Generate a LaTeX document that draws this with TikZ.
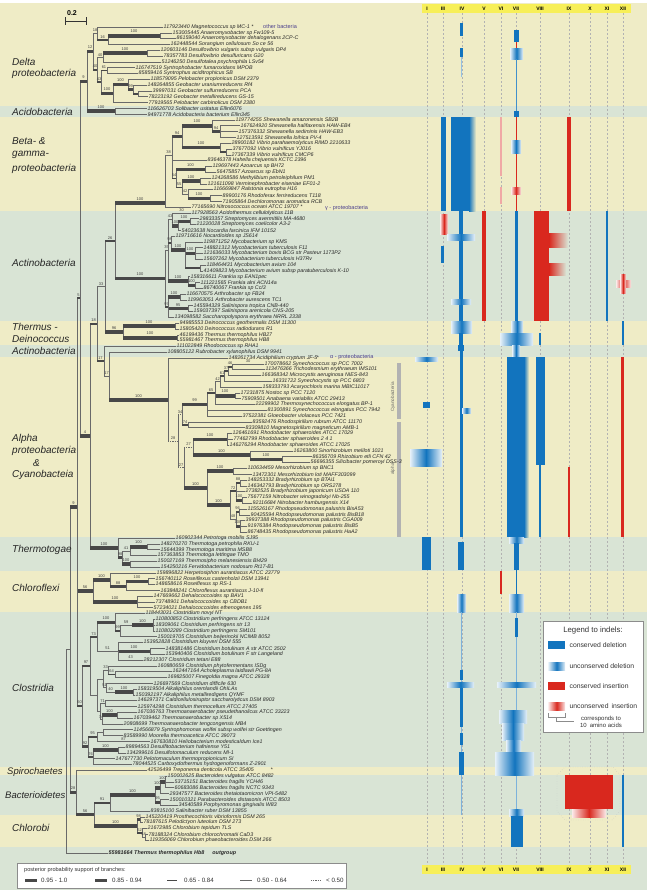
\documentclass[tikz,border=0pt]{standalone}
\usepackage{fontspec}
\setmainfont{Liberation Sans}
\usetikzlibrary{positioning}

\definecolor{bandy}{RGB}{239,236,198}
\definecolor{bandg}{RGB}{217,228,213}
\definecolor{indblue}{RGB}{18,116,190}
\definecolor{indred}{RGB}{217,40,30}
\definecolor{treeln}{RGB}{105,105,105}
\definecolor{barln}{RGB}{72,72,72}
\definecolor{colbar}{RGB}{247,239,88}
\definecolor{tagc}{RGB}{74,62,140}
\definecolor{brack}{RGB}{178,178,178}

\tikzset{
    leaf/.style={anchor=west, inner sep=0.5pt, text=black!85,
        font=\fontsize{5.3}{6}\selectfont\itshape},
    bs/.style={midway, above=0.9pt, inner sep=0pt, text=black!75,
        font=\fontsize{4}{4.5}\selectfont},
    vln/.style={draw=treeln, line width=0.5pt},
    b1/.style={draw=treeln, line width=0.5pt},
    b2/.style={draw=barln, line width=1.6pt},
    b3/.style={draw=barln, line width=2.6pt},
    b4/.style={draw=barln, line width=3.6pt},
    bd/.style={draw=treeln, line width=0.5pt, dash pattern=on 1.2pt off 1pt},
    clade/.style={anchor=west, inner sep=0pt, text=black!85,
        font=\fontsize{10}{12}\selectfont\itshape},
    tag/.style={anchor=west, inner sep=0pt, text=tagc,
        font=\fontsize{5.5}{6}\selectfont},
    coln/.style={draw=black!30, line width=0.35pt, dash pattern=on 2pt off 2pt},
    colt/.style={inner sep=0pt, font=\fontsize{5}{5}\selectfont\bfseries},
    cdel/.style={fill=indblue},
    cins/.style={fill=indred},
    udel/.style={left color=indblue!10, right color=indblue!10, middle color=indblue},
    uins/.style={left color=indred!10, right color=indred!10, middle color=indred},
    lgt/.style={inner sep=0pt, text=black!80, font=\fontsize{6.8}{8}\selectfont},
    lgs/.style={anchor=west, inner sep=0pt, text=black!80, font=\fontsize{6.2}{7}\selectfont},
    swatch/.style={anchor=north west, minimum width=17pt, minimum height=8pt, inner sep=0pt}
}

\newcommand{\lfn}[3]{\node[leaf] (l#1) at (#2,{21.193+5.807*#1}) {#3};}
\newcommand{\brn}[4][b1]{%
    \draw[vln] (#2) -- (#2|-#3);
    \draw[#1] (#2|-#3) -- (#3) node[bs] {#4};}

\begin{document}
\begin{tikzpicture}[x=1pt, y=-1pt]
\useasboundingbox (0,0) rectangle (649,892);
\fill[white] (0,0) rectangle (649,892);

% bands
\foreach \ya/\yb/\bc in {3/106/bandy, 106/117/bandg, 117/211/bandy, 211/321/bandg,
    321/345/bandy, 345/357/bandg, 357/537/bandy, 537/571/bandg, 571/612/bandy,
    612/767/bandg, 767/775/bandy, 775/815/bandg, 815/847/bandy, 847/890/bandg}
    \fill[\bc] (0,\ya) rectangle (647,\yb);

% indel columns
\fill[colbar] (422,4) rectangle (631,13);
\fill[colbar] (422,865) rectangle (631,874);
\foreach \cx/\cl in {427/I, 443/III, 462/IV, 484/V, 501/VI, 516/VII, 540/VIII,
    569/IX, 590/X, 607/XI, 623/XII} {
    \draw[coln] (\cx,13) -- (\cx,865);
    \node[colt] (top\cl) at (\cx,8.7) {\cl};
    \node[colt] (bot\cl) at (\cx,869.7) {\cl};
}

% indels: delta, acidobacteria
\fill[cdel] (460,23) rectangle (463,36);
\fill[cdel] (460,48) rectangle (463,57);
\fill[indblue!45] (460.5,57) rectangle (462,77);
\fill[cdel] (514,30) rectangle (519,42);
\fill[indred] (515.5,42) rectangle (517,48);
\path[udel] (510,48) rectangle (523,59);
\fill[indblue!80] (515.5,59) rectangle (517,111);
\fill[cdel] (514,111) rectangle (519,117);
% beta-gamma
\fill[cdel] (441,117) rectangle (446,211);
\fill[cdel] (451,117) rectangle (469,211);
\shade[left color=indblue, right color=bandy] (469,117) rectangle (476,211);
\fill[indred!40] (500,117) rectangle (501.5,176);
\fill[indred!40] (500,187) rectangle (501.5,204);
\fill[indred] (515.5,117) rectangle (517,211);
\path[udel] (511,140) rectangle (521,153);
\path[uins] (511,187) rectangle (521,194);
\fill[cins] (567,117) rectangle (571,211);
% actinobacteria
\path[uins] (440,214) rectangle (448,234);
\fill[cdel] (441,246) rectangle (444,263);
\fill[cdel] (459,211) rectangle (463,321);
\path[udel] (447,234) rectangle (475,240);
\path[udel] (451,299) rectangle (471,304);
\fill[cins] (482,211) rectangle (486,321);
\fill[cdel] (514.5,211) rectangle (518,321);
\fill[cins] (534,211) rectangle (549,321);
\shade[left color=indred, right color=bandg] (549,233) rectangle (568,247);
\shade[left color=indred, right color=bandg] (549,263) rectangle (566,275);
\fill[cdel] (606,211) rectangle (608,321);
\path[uins] (616,280) rectangle (631,287);
\path[uins] (620,274) rectangle (626,293);
% thermus-deinococcus
\path[udel] (451,321) rectangle (472,333);
\fill[cdel] (459,333) rectangle (463,345);
\path[udel] (511,321) rectangle (523,333);
\path[udel] (500,333) rectangle (533,345);
\fill[cdel] (539,333) rectangle (541,345);
\fill[cdel] (622,321) rectangle (624,345);
\fill[cdel] (458,345) rectangle (464,351);
\fill[cdel] (460,351) rectangle (463,357);
\path[udel] (512,345) rectangle (520,357);
% alpha, cyanobacteria
\path[udel] (415,357) rectangle (438,361);
\fill[cdel] (460,357) rectangle (463,537);
\path[udel] (462,408) rectangle (471,413);
\fill[cdel] (423,402) rectangle (430,408);
\fill[cdel] (507,357) rectangle (524,537);
\shade[left color=indblue, right color=bandy] (524,357) rectangle (529,537);
\path[udel] (509,537) rectangle (524,543);
\fill[cdel] (536,357) rectangle (545,465);
\fill[cdel] (539,465) rectangle (541,537);
\fill[cins] (568,467) rectangle (570,537);
\fill[cins] (621,357) rectangle (624,537);
\path[udel] (410,449) rectangle (442,466);
\fill[brack] (397,363) rectangle (401,419);
\fill[brack] (397,422) rectangle (401,537);
\node[rotate=90, inner sep=0pt, text=black!60, font=\fontsize{4.6}{5}\selectfont] (lcyano) at (393,397) {Cyanobacteria};
\node[rotate=90, inner sep=0pt, text=black!60, font=\fontsize{4.6}{5}\selectfont] (lalpha) at (393,469) {alpha};
% thermotogae, chloroflexi
\fill[cdel] (422,537) rectangle (431,570);
\fill[cdel] (458,542) rectangle (464,570);
\fill[cdel] (514,543) rectangle (519,570);
\fill[cins] (500,571) rectangle (501.5,594);
\path[udel] (457,594) rectangle (466,612);
\fill[cdel] (515.5,570) rectangle (517,594);
\path[udel] (509,594) rectangle (524,612);
% clostridia
\fill[indblue!55] (460.5,612) rectangle (462,815);
\fill[cdel] (459.5,670) rectangle (462.5,680);
\fill[cdel] (459.5,688) rectangle (462.5,727);
\fill[cdel] (459.5,733) rectangle (462.5,745);
\fill[cdel] (459,752) rectangle (463.5,775);
\path[udel] (447,682) rectangle (474,687);
\fill[indblue!55] (515.5,612) rectangle (517,810);
\fill[cdel] (514.5,618) rectangle (518,637);
\path[udel] (497,682) rectangle (536,687);
\path[udel] (499,710) rectangle (527,723);
\path[udel] (502,723) rectangle (524,740);
\path[udel] (506,740) rectangle (521,752);
\path[udel] (495,752) rectangle (534,775);
% bacteroidetes, chlorobi
\draw[black!25, dotted] (557,775) -- (565,767) -- (613,767) -- (620,775) -- (620,811)
    -- (612,820) -- (565,820) -- (557,811) -- cycle;
\fill[cins] (565,775) rectangle (613,809);
\path[uins] (572,809) rectangle (606,817);
\path[udel] (509,809) rectangle (524,816);
\fill[cdel] (511,816) rectangle (523,847);
\fill[cdel] (622,775) rectangle (624,847);

% leaves
\lfn{1}{163}{117923440 Magnetococcus sp MC-1 *}
\lfn{2}{172}{153005445 Anaeromyxobacter sp Fw109-5}
\lfn{3}{176}{86159040 Anaeromyxobacter dehalogenans 2CP-C}
\lfn{4}{170}{162448544 Sorangium cellulosum So ce 56}
\lfn{5}{160}{120603146 Desulfovibrio vulgaris subsp vulgaris DP4}
\lfn{6}{163}{78357783 Desulfovibrio desulfuricans G20}
\lfn{7}{161}{51246250 Desulfotalea psychrophila LSv54}
\lfn{8}{135}{116747519 Syntrophobacter fumaroxidans MPOB}
\lfn{9}{138}{85859416 Syntrophus aciditrophicus SB}
\lfn{10}{150}{118579095 Pelobacter propionicus DSM 2379}
\lfn{11}{147}{148264855 Geobacter uraniumreducens Rf4}
\lfn{12}{152}{39997031 Geobacter sulfurreducens PCA}
\lfn{13}{148}{78223192 Geobacter metallireducens GS-15}
\lfn{14}{148}{77919565 Pelobacter carbinolicus DSM 2380}
\lfn{15}{147}{116626703 Solibacter usitatus Ellin6076}
\lfn{16}{147}{94971778 Acidobacteria bacterium Ellin345}
\lfn{17}{235}{119774255 Shewanella amazonensis SB2B}
\lfn{18}{240}{167624920 Shewanella halifaxensis HAW-EB4}
\lfn{19}{238}{157376332 Shewanella sediminis HAW-EB3}
\lfn{20}{236}{127513591 Shewanella loihica PV-4}
\lfn{21}{231}{28900182 Vibrio parahaemolyticus RIMD 2210633}
\lfn{22}{232}{37677092 Vibrio vulnificus YJ016}
\lfn{23}{231}{27367339 Vibrio vulnificus CMCP6}
\lfn{24}{207}{83646378 Hahella chejuensis KCTC 2396}
\lfn{25}{212}{119697443 Azoarcus sp BH72}
\lfn{26}{216}{56475857 Azoarcus sp EbN1}
\lfn{27}{211}{124268586 Methylibium petroleiphilum PM1}
\lfn{28}{207}{121611098 Verminephrobacter eiseniae EF01-2}
\lfn{29}{213}{116669847 Ralstonia eutropha H16}
\lfn{30}{222}{89900176 Rhodoferax ferrireducens T118}
\lfn{31}{222}{71905864 Dechloromonas aromatica RCB}
\lfn{32}{191}{77165690 Nitrosococcus oceani ATCC 19707 *}
\lfn{33}{191}{117928563 Acidothermus cellulolyticus 11B}
\lfn{34}{199}{29833357 Streptomyces avermitilis MA-4680}
\lfn{35}{196}{21220028 Streptomyces coelicolor A3-2}
\lfn{36}{181}{54023638 Nocardia farcinica IFM 10152}
\lfn{37}{175}{119716616 Nocardioides sp JS614}
\lfn{38}{203}{119871252 Mycobacterium sp KMS}
\lfn{39}{203}{148821312 Mycobacterium tuberculosis F11}
\lfn{40}{203}{121636033 Mycobacterium bovis BCG str Pasteur 1173P2}
\lfn{41}{203}{15607262 Mycobacterium tuberculosis H37Rv}
\lfn{42}{206}{118464431 Mycobacterium avium 104}
\lfn{43}{203}{41409823 Mycobacterium avium subsp paratuberculosis K-10}
\lfn{44}{190}{158316611 Frankia sp EAN1pec}
\lfn{45}{200}{111221565 Frankia alni ACN14a}
\lfn{46}{203}{86740067 Frankia sp CcI3}
\lfn{47}{186}{116670575 Arthrobacter sp FB24}
\lfn{48}{187}{119963051 Arthrobacter aurescens TC1}
\lfn{49}{193}{145594329 Salinispora tropica CNB-440}
\lfn{50}{193}{159037397 Salinispora arenicola CNS-205}
\lfn{51}{174}{134098582 Saccharopolyspora erythraea NRRL 2338}
\lfn{52}{179}{94985553 Deinococcus geothermalis DSM 11300}
\lfn{53}{179}{15805420 Deinococcus radiodurans R1}
\lfn{54}{179}{46199436 Thermus thermophilus HB27}
\lfn{55}{179}{55981467 Thermus thermophilus HB8}
\lfn{56}{176}{111022849 Rhodococcus sp RHA1}
\lfn{57}{167}{108805122 Rubrobacter xylanophilus DSM 9941}
\lfn{58}{228}{148261734 Acidiphilium cryptum JF-5}
\lfn{59}{264}{170078662 Synechococcus sp PCC 7002}
\lfn{60}{265}{113476366 Trichodesmium erythraeum IMS101}
\lfn{61}{261}{166368342 Microcystis aeruginosa NIES-843}
\lfn{62}{272}{16331722 Synechocystis sp PCC 6803}
\lfn{63}{262}{158333793 Acaryochloris marina MBIC11017}
\lfn{64}{240}{17231875 Nostoc sp PCC 7120}
\lfn{65}{241}{75909501 Anabaena variabilis ATCC 29413}
\lfn{66}{255}{22299902 Thermosynechococcus elongatus BP-1}
\lfn{67}{267}{81300891 Synechococcus elongatus PCC 7942}
\lfn{68}{242}{37522381 Gloeobacter violaceus PCC 7421}
\lfn{69}{252}{83592476 Rhodospirillum rubrum ATCC 11170}
\lfn{70}{245}{83309810 Magnetospirillum magneticum AMB-1}
\lfn{71}{232}{126461691 Rhodobacter sphaeroides ATCC 17029}
\lfn{72}{233}{77462799 Rhodobacter sphaeroides 2 4 1}
\lfn{73}{229}{146276294 Rhodobacter sphaeroides ATCC 17025}
\lfn{74}{293}{16263800 Sinorhizobium meliloti 1021}
\lfn{75}{312}{86356709 Rhizobium etli CFN 42}
\lfn{76}{310}{56696355 Silicibacter pomeroyi DSS-3}
\lfn{77}{247}{110634459 Mesorhizobium sp BNC1}
\lfn{78}{252}{13472301 Mesorhizobium loti MAFF303099}
\lfn{79}{247}{148253332 Bradyrhizobium sp BTAi1}
\lfn{80}{247}{146342793 Bradyrhizobium sp ORS278}
\lfn{81}{245}{27382525 Bradyrhizobium japonicum USDA 110}
\lfn{82}{247}{75677159 Nitrobacter winogradskyi Nb-255}
\lfn{83}{252}{92116684 Nitrobacter hamburgensis X14}
\lfn{84}{247}{115526167 Rhodopseudomonas palustris BisA53}
\lfn{85}{250}{90425594 Rhodopseudomonas palustris BisB18}
\lfn{86}{245}{39937388 Rhodopseudomonas palustris CGA009}
\lfn{87}{247}{91976384 Rhodopseudomonas palustris BisB5}
\lfn{88}{247}{86748435 Rhodopseudomonas palustris HaA2}
\lfn{89}{175}{160902344 Petrotoga mobilis SJ95}
\lfn{90}{160}{148270270 Thermotoga petrophila RKU-1}
\lfn{91}{160}{15644399 Thermotoga maritima MSB8}
\lfn{92}{157}{157363853 Thermotoga lettingae TMO}
\lfn{93}{157}{150027169 Thermosipho melanesiensis BI429}
\lfn{94}{160}{154250216 Fervidobacterium nodosum Rt17-B1}
\lfn{95}{156}{159896822 Herpetosiphon aurantiacus ATCC 23779}
\lfn{96}{155}{156740112 Roseiflexus castenholzii DSM 13941}
\lfn{97}{155}{148658616 Roseiflexus sp RS-1}
\lfn{98}{160}{163848241 Chloroflexus aurantiacus J-10-fl}
\lfn{99}{153}{147669662 Dehalococcoides sp BAV1}
\lfn{100}{155}{73748901 Dehalococcoides sp CBDB1}
\lfn{101}{153}{57234021 Dehalococcoides ethenogenes 195}
\lfn{102}{145}{118443031 Clostridium novyi NT}
\lfn{103}{155}{110800853 Clostridium perfringens ATCC 13124}
\lfn{104}{155}{18309061 Clostridium perfringens str 13}
\lfn{105}{155}{110802289 Clostridium perfringens SM101}
\lfn{106}{157}{150019705 Clostridium beijerinckii NCIMB 8052}
\lfn{107}{143}{153952828 Clostridium kluyveri DSM 555}
\lfn{108}{165}{148381486 Clostridium botulinum A str ATCC 3502}
\lfn{109}{165}{153940406 Clostridium botulinum F str Langeland}
\lfn{110}{143}{28212307 Clostridium tetani E88}
\lfn{111}{157}{160880659 Clostridium phytofermentans ISDg}
\lfn{112}{172}{162447164 Acholeplasma laidlawii PG-8A}
\lfn{113}{167}{169825007 Finegoldia magna ATCC 29328}
\lfn{114}{153}{126697569 Clostridium difficile 630}
\lfn{115}{137}{158319504 Alkaliphilus oremlandii OhILAs}
\lfn{116}{135}{150392197 Alkaliphilus metalliredigens QYMF}
\lfn{117}{137}{146297371 Caldicellulosiruptor saccharolyticus DSM 8903}
\lfn{118}{137}{125974298 Clostridium thermocellum ATCC 27405}
\lfn{119}{137}{167036763 Thermoanaerobacter pseudethanolicus ATCC 33223}
\lfn{120}{133}{167039462 Thermoanaerobacter sp X514}
\lfn{121}{123}{20808699 Thermoanaerobacter tengcongensis MB4}
\lfn{122}{133}{114566879 Syntrophomonas wolfei subsp wolfei str Goettingen}
\lfn{123}{123}{83589990 Moorella thermoacetica ATCC 39073}
\lfn{124}{150}{167630810 Heliobacterium modesticaldum Ice1}
\lfn{125}{125}{89894563 Desulfitobacterium hafniense Y51}
\lfn{126}{126}{134299616 Desulfotomaculum reducens MI-1}
\lfn{127}{115}{147677730 Pelotomaculum thermopropionicum SI}
\lfn{128}{132}{78044525 Carboxydothermus hydrogenoformans Z-2901}
\lfn{129}{147}{42526499 Treponema denticola ATCC 35405}
\lfn{130}{167}{150002625 Bacteroides vulgatus ATCC 8482}
\lfn{131}{174}{53715151 Bacteroides fragilis YCH46}
\lfn{132}{174}{60683086 Bacteroides fragilis NCTC 9343}
\lfn{133}{169}{29347577 Bacteroides thetaiotaomicron VPI-5482}
\lfn{134}{169}{150010321 Parabacteroides distasonis ATCC 8503}
\lfn{135}{178}{34540589 Porphyromonas gingivalis W83}
\lfn{136}{150}{83815100 Salinibacter ruber DSM 13855}
\lfn{137}{145}{145220419 Prosthecochloris vibrioformis DSM 265}
\lfn{138}{143}{78187615 Pelodictyon luteolum DSM 273}
\lfn{139}{147}{21672985 Chlorobium tepidum TLS}
\lfn{140}{148}{78188324 Chlorobium chlorochromatii CaD3}
\lfn{141}{149}{119356069 Chlorobium phaeobacteroides DSM 266}
\node[leaf, font=\fontsize{5.4}{6}\selectfont\bfseries\itshape] (og) at (108,853)
    {55981664 Thermus thermophilus Hb8\hspace{8pt}outgroup};
\node[leaf] (ast58) at (316,358) {*};
\node[leaf] (ast129) at (270,770) {*};
\node[tag] (tother) at (263,26.5) {other bacteria};
\node[tag] (tgamma) at (325,208) {γ - proteobacteria};
\node[tag] (talpha) at (330,357.5) {α - proteobacteria};

% internal nodes
\coordinate (root) at (66,751);
\coordinate (ing) at (70,649.5);
\coordinate (q) at (77,507);
\coordinate (s) at (76,792.4);
\coordinate (t) at (80,298);
\coordinate (cf) at (93,591);
\coordinate (w) at (82,706);
\coordinate (d) at (87,81.4);
\coordinate (f) at (90,436);
\coordinate (dl) at (93,51.5);
\coordinate (ac) at (115,111.2);
\coordinate (dm) at (97,33);
\coordinate (mx) at (108,40);
\coordinate (anae) at (160,35.7);
\coordinate (dr) at (97,69.8);
\coordinate (dv) at (103,57.5);
\coordinate (dva) at (147,53.1);
\coordinate (sy) at (101,81.8);
\coordinate (syn) at (107,70.6);
\coordinate (geo) at (113,93.5);
\coordinate (gp) at (128,84.4);
\coordinate (gg) at (133,89.5);
\coordinate (gs) at (138,93.8);
\coordinate (k) at (115,241);
\coordinate (bg) at (165,203);
\coordinate (g1) at (172,155);
\coordinate (g2) at (182,136.6);
\coordinate (g3) at (176,178.6);
\coordinate (sh) at (212,125.7);
\coordinate (sh2) at (220,131.5);
\coordinate (vb) at (220,147.5);
\coordinate (vb2) at (226,151.9);
\coordinate (az) at (205,169.3);
\coordinate (g4) at (182,187.5);
\coordinate (mt) at (200,180.9);
\coordinate (g5) at (188,194);
\coordinate (rd) at (210,198.3);
\coordinate (j) at (105,286.5);
\coordinate (act) at (165,278.5);
\coordinate (aa) at (168,250);
\coordinate (ab) at (168,307);
\coordinate (ac1) at (172,219);
\coordinate (sm) at (178,226);
\coordinate (st) at (190,221.5);
\coordinate (ny) at (171,243);
\coordinate (my) at (185,250);
\coordinate (mt2) at (195,253.5);
\coordinate (ma) at (200,268);
\coordinate (fr) at (188,281);
\coordinate (fr2) at (195,285.4);
\coordinate (ar) at (180,297);
\coordinate (sa2) at (188,308.6);
\coordinate (td) at (123,332);
\coordinate (dn) at (175,326.1);
\coordinate (th) at (177,337.7);
\coordinate (h) at (97,323.8);
\coordinate (lq) at (104,361);
\coordinate (lm) at (109,376);
\coordinate (alp) at (168,400);
\coordinate (n2) at (178,441);
\coordinate (n3) at (182,414.6);
\coordinate (n4) at (184,467.5);
\coordinate (cy) at (207,404.5);
\coordinate (rs) at (188,424.8);
\coordinate (c1) at (215,393);
\coordinate (c2) at (220,381.5);
\coordinate (ns) at (235,395.7);
\coordinate (c3) at (224,376);
\coordinate (c4) at (228,371);
\coordinate (c5) at (232,366.7);
\coordinate (r1) at (193,447);
\coordinate (rb) at (227,439.3);
\coordinate (rz) at (250,455);
\coordinate (rz2) at (282,459.6);
\coordinate (r2) at (207,488);
\coordinate (ms) at (233,471.2);
\coordinate (bra) at (230,505);
\coordinate (bgr) at (236,491);
\coordinate (bb) at (240,482.8);
\coordinate (nb) at (242,500.3);
\coordinate (rp) at (236,519);
\coordinate (rp1) at (239,511.9);
\coordinate (rp2) at (240,526.4);
\coordinate (tt) at (118,547.8);
\coordinate (t2) at (122,557.6);
\coordinate (t3) at (130,551);
\coordinate (tm) at (147,546.7);
\coordinate (t4) at (130,564.1);
\coordinate (cf1) at (110,580);
\coordinate (cf2) at (126,586.5);
\coordinate (rf) at (148,581.6);
\coordinate (dh) at (137,601.9);
\coordinate (cl1) at (90,666);
\coordinate (cl2) at (88,746.5);
\coordinate (cl3) at (97,637);
\coordinate (cl5) at (97,695);
\coordinate (ca) at (115,622.3);
\coordinate (ca2) at (120,630.9);
\coordinate (pf) at (132,625.1);
\coordinate (pf2) at (153,625.1);
\coordinate (cb) at (118,651);
\coordinate (cbo) at (150,651.3);
\coordinate (cl6) at (103,679);
\coordinate (c6a) at (108,670);
\coordinate (ac2) at (115,674.5);
\coordinate (c6b) at (106,687.5);
\coordinate (al) at (115,691.9);
\coordinate (al2) at (133,691.9);
\coordinate (cl7) at (100,711.5);
\coordinate (cc) at (105,703.5);
\coordinate (ta) at (102,719.5);
\coordinate (tp) at (117,715.1);
\coordinate (cm) at (97,737);
\coordinate (sw) at (103,732.6);
\coordinate (cd) at (93,757);
\coordinate (dsr) at (118,750);
\coordinate (bc) at (94,814.5);
\coordinate (bt) at (110,803);
\coordinate (bx) at (155,795);
\coordinate (bv) at (160,787.7);
\coordinate (bv2) at (165,781.9);
\coordinate (pb) at (160,802.2);
\coordinate (cb2) at (137,826);
\coordinate (ch1) at (140,819.7);
\coordinate (ch2) at (142,832.8);
\coordinate (ch3) at (145,837.1);

% backbone
\brn{root}{ing}{}
\brn{root}{og}{}
\brn[b4]{ing}{q}{9}
\brn[b4]{ing}{s}{28}
\brn[b2]{q}{t}{5}
\brn[b4]{q}{cf}{56}
\brn[b3]{q}{w}{60}
\brn[b4]{t}{d}{9}
\brn[b4]{t}{f}{4}

% delta, acidobacteria
\brn[b4]{d}{dl}{12}
\brn[b4]{d}{ac}{100}
\brn{ac}{l15}{} \brn{ac}{l16}{}
\brn{dl}{dm}{18}
\brn[b2]{dm}{mx}{16}
\brn{dm}{l1}{}
\brn[b4]{mx}{anae}{100}
\brn{mx}{l4}{}
\brn{anae}{l2}{} \brn{anae}{l3}{}
\brn[b3]{dl}{dr}{40}
\brn{dr}{dv}{40}
\brn[b4]{dv}{dva}{100}
\brn{dva}{l5}{} \brn{dva}{l6}{} \brn{dv}{l7}{}
\brn[b2]{dr}{sy}{43}
\brn[b2]{sy}{syn}{61}
\brn{syn}{l8}{} \brn{syn}{l9}{}
\brn[b4]{sy}{geo}{100}
\brn[b4]{geo}{gp}{100}
\brn{geo}{l14}{}
\brn{gp}{l10}{}
\brn[b3]{gp}{gg}{99}
\brn{gg}{l11}{}
\brn[b2]{gg}{gs}{}
\brn{gs}{l12}{} \brn{gs}{l13}{}

% beta- and gamma-proteobacteria
\brn[b2]{j}{k}{26}
\brn[b4]{k}{bg}{100}
\brn{bg}{g1}{38}
\brn{bg}{l32}{}
\brn[b3]{g1}{g2}{94}
\brn{g1}{l24}{}
\brn[b2]{g1}{g3}{54}
\brn[b4]{g2}{sh}{100}
\brn[b4]{g2}{vb}{100}
\brn{sh}{l17}{}
\brn[b3]{sh}{sh2}{94}
\brn{sh2}{l18}{} \brn{sh2}{l19}{} \brn{sh2}{l20}{}
\brn{vb}{l21}{}
\brn[b2]{vb}{vb2}{}
\brn{vb2}{l22}{} \brn{vb2}{l23}{}
\brn[b4]{g3}{az}{100}
\brn{az}{l25}{} \brn{az}{l26}{}
\brn[b2]{g3}{g4}{55}
\brn[b4]{g4}{mt}{100}
\brn{mt}{l27}{} \brn{mt}{l28}{}
\brn{g4}{g5}{42}
\brn{g5}{l29}{}
\brn[b4]{g5}{rd}{100}
\brn{rd}{l30}{} \brn{rd}{l31}{}

% actinobacteria, thermus-deinococcus
\brn{h}{j}{33}
\brn[b4]{k}{act}{100}
\brn{act}{aa}{35}
\brn[b2]{act}{ab}{97}
\brn{aa}{ac1}{43}
\brn{ac1}{l33}{30}
\brn[b4]{ac1}{sm}{100}
\brn[b4]{sm}{st}{100}
\brn{st}{l34}{} \brn{st}{l35}{}
\brn{sm}{l36}{}
\brn[b3]{aa}{ny}{98}
\brn{ny}{l37}{}
\brn[b4]{ny}{my}{100}
\brn{my}{l38}{}
\brn[b4]{my}{mt2}{100}
\brn{mt2}{l39}{} \brn{mt2}{l40}{} \brn{mt2}{l41}{}
\brn[b2]{my}{ma}{}
\brn{ma}{l42}{} \brn{ma}{l43}{}
\brn[b4]{aa}{fr}{100}
\brn{fr}{l44}{}
\brn[b4]{fr}{fr2}{100}
\brn{fr2}{l45}{} \brn{fr2}{l46}{}
\brn[b4]{ab}{ar}{100}
\brn{ar}{l47}{} \brn{ar}{l48}{}
\brn[b3]{ab}{sa2}{95}
\brn{sa2}{l49}{} \brn{sa2}{l50}{}
\brn{ab}{l51}{}
\brn[b4]{j}{td}{96}
\brn[b4]{td}{dn}{100}
\brn[b4]{td}{th}{100}
\brn{dn}{l52}{} \brn{dn}{l53}{} \brn{th}{l54}{} \brn{th}{l55}{}

% alpha-proteobacteria, cyanobacteria
\brn[b3]{f}{h}{18}
\brn[b2]{h}{lq}{17}
\brn{lq}{l56}{}
\brn{lq}{lm}{17}
\brn{lm}{l57}{}
\brn[b4]{lm}{alp}{100}
\brn{alp}{l58}{}
\brn[bd]{alp}{n2}{28}
\brn[bd]{n2}{n3}{34}
\brn[bd]{n2}{n4}{27}
\brn[b4]{n3}{cy}{99}
\brn[b2]{n3}{rs}{74}
\brn{rs}{l69}{} \brn{rs}{l70}{}
\brn[b2]{cy}{c1}{65}
\brn{cy}{l67}{} \brn{cy}{l68}{}
\brn{c1}{c2}{42}
\brn[b4]{c1}{ns}{100}
\brn{ns}{l64}{} \brn{ns}{l65}{}
\brn{c1}{l66}{}
\brn[b2]{c2}{c3}{61}
\brn{c2}{l63}{}
\brn[b2]{c3}{c4}{37}
\brn{c3}{l62}{}
\brn[b2]{c4}{c5}{46}
\brn{c4}{l61}{}
\brn{c5}{l59}{30} \brn{c5}{l60}{}
\brn[bd]{n4}{r1}{27}
\brn[b4]{r1}{rb}{100}
\brn{rb}{l71}{} \brn{rb}{l72}{} \brn{rb}{l73}{}
\brn[b4]{r1}{rz}{100}
\brn{rz}{l74}{}
\brn[b4]{rz}{rz2}{100}
\brn{rz2}{l75}{} \brn{rz2}{l76}{}
\brn[b4]{n4}{r2}{100}
\brn[b4]{r2}{ms}{100}
\brn{ms}{l77}{} \brn{ms}{l78}{}
\brn[b4]{r2}{bra}{100}
\brn[b2]{bra}{bgr}{72}
\brn[b3]{bgr}{bb}{88}
\brn{bb}{l79}{} \brn{bb}{l80}{}
\brn{bgr}{l81}{}
\brn[b4]{bgr}{nb}{100}
\brn{nb}{l82}{} \brn{nb}{l83}{}
\brn{bra}{rp}{48}
\brn[b3]{rp}{rp1}{96}
\brn{rp1}{l84}{} \brn{rp1}{l85}{}
\brn[b4]{rp}{rp2}{100}
\brn{rp2}{l86}{} \brn{rp2}{l87}{} \brn{rp2}{l88}{}

% thermotogae, chloroflexi
\brn[b4]{f}{tt}{100}
\brn{tt}{l89}{}
\brn[b3]{tt}{t2}{98}
\brn{t2}{t3}{41}
\brn[b4]{t3}{tm}{100}
\brn{tm}{l90}{} \brn{tm}{l91}{}
\brn{t3}{l92}{}
\brn[b4]{t2}{t4}{100}
\brn{t4}{l93}{} \brn{t4}{l94}{}
\brn[b4]{cf}{cf1}{100}
\brn{cf1}{l95}{}
\brn[b3]{cf1}{cf2}{88}
\brn[b4]{cf2}{rf}{100}
\brn{rf}{l96}{} \brn{rf}{l97}{}
\brn{cf2}{l98}{}
\brn[b4]{cf}{dh}{100}
\brn{dh}{l99}{} \brn{dh}{l100}{} \brn{dh}{l101}{}

% clostridia
\brn[b3]{w}{cl1}{97}
\brn[b3]{w}{cl2}{92}
\brn[b2]{cl1}{cl3}{73}
\brn{cl1}{cl5}{}
\brn[b4]{cl3}{ca}{100}
\brn{ca}{l102}{}
\brn[b3]{ca}{ca2}{99}
\brn{ca2}{pf}{59}
\brn[b4]{pf}{pf2}{100}
\brn{pf2}{l103}{} \brn{pf2}{l104}{} \brn{pf2}{l105}{}
\brn{ca2}{l106}{}
\brn{cl3}{cb}{51}
\brn{cb}{l107}{}
\brn[b4]{cb}{cbo}{100}
\brn{cbo}{l108}{} \brn{cbo}{l109}{}
\brn{cb}{l110}{43}
\brn{cl5}{cl6}{}
\brn{cl6}{c6a}{33}
\brn{c6a}{l111}{}
\brn[b2]{c6a}{ac2}{64}
\brn{ac2}{l112}{} \brn{ac2}{l113}{}
\brn{cl6}{c6b}{51}
\brn{c6b}{l114}{}
\brn{c6b}{al}{40}
\brn[b4]{al}{al2}{100}
\brn{al2}{l115}{} \brn{al2}{l116}{}
\brn{cl5}{cl7}{}
\brn{cl7}{cc}{71}
\brn{cc}{l117}{} \brn{cc}{l118}{}
\brn{cl7}{ta}{74}
\brn[b4]{ta}{tp}{100}
\brn{tp}{l119}{} \brn{tp}{l120}{}
\brn{ta}{l121}{}
\brn[b3]{cl2}{cm}{95}
\brn{cm}{sw}{}
\brn{sw}{l122}{} \brn{sw}{l123}{}
\brn{cm}{l124}{87}
\brn[b2]{cl2}{cd}{76}
\brn[b4]{cd}{dsr}{100}
\brn{dsr}{l125}{} \brn{dsr}{l126}{}
\brn{cd}{l127}{} \brn{cd}{l128}{}

% spirochaetes, bacteroidetes, chlorobi
\brn{s}{l129}{}
\brn[b3]{s}{bc}{56}
\brn[b3]{bc}{bt}{91}
\brn[b4]{bt}{bx}{100}
\brn{bt}{l136}{}
\brn[b4]{bx}{bv}{100}
\brn[b4]{bv}{bv2}{100}
\brn{bv2}{l130}{} \brn{bv2}{l131}{} \brn{bv2}{l132}{}
\brn{bv}{l133}{}
\brn[b3]{bx}{pb}{95}
\brn{pb}{l134}{} \brn{pb}{l135}{}
\brn[b4]{bc}{cb2}{100}
\brn[b3]{cb2}{ch1}{98}
\brn{ch1}{l137}{} \brn{ch1}{l138}{}
\brn[b2]{cb2}{ch2}{52}
\brn{ch2}{l139}{}
\brn{ch2}{ch3}{48}
\brn{ch3}{l140}{} \brn{ch3}{l141}{}

% clade names
\node[clade] (nDelta) at (12,62) {Delta};
\node[clade] (nDelta2) at (12,74) {proteobacteria};
\node[clade] (nAcido) at (12,112) {Acidobacteria};
\node[clade] (nBeta) at (12,141) {Beta- \&};
\node[clade] (nBeta2) at (12,155) {gamma-};
\node[clade] (nBeta3) at (12,169) {proteobacteria};
\node[clade] (nActino) at (12,263) {Actinobacteria};
\node[clade] (nThermus) at (12,327) {Thermus -};
\node[clade] (nThermus2) at (12,339) {Deinococcus};
\node[clade] (nActino2) at (12,351) {Actinobacteria};
\node[clade] (nAlpha) at (12,439) {Alpha};
\node[clade] (nAlpha2) at (12,451) {proteobacteria};
\node[clade] (nAlpha3) at (33,463) {\&};
\node[clade] (nAlpha4) at (12,475) {Cyanobacteia};
\node[clade] (nToga) at (12,550) {Thermotogae};
\node[clade] (nFlexi) at (12,588) {Chloroflexi};
\node[clade] (nClos) at (12,688) {Clostridia};
\node[clade, font=\fontsize{9.5}{11}\selectfont\itshape] (nSpiro) at (7,772) {Spirochaetes};
\node[clade, font=\fontsize{9.5}{11}\selectfont\itshape] (nBact) at (5,795) {Bacterioidetes};
\node[clade] (nChlb) at (12,828) {Chlorobi};

% scale bar
\node[inner sep=0pt, font=\fontsize{7}{8}\selectfont\bfseries] (scl) at (72,13) {0.2};
\coordinate (sba) at (65,21);
\coordinate (sbb) at (87,21);
\draw[black!80, line width=1pt, |-|] (sba) -- (sbb);

% legend: branch support
\node[draw=black!45, fill=white, line width=0.8pt, minimum width=329pt, minimum height=25pt,
    anchor=north west, inner sep=0pt] (pplg) at (17,863) {};
\node[lgs, font=\fontsize{5.6}{6}\selectfont] (ppt) at (24,870.5) {posterior probability support of branches:};
\node[lgs] (pp1) at (41,880.5) {0.95 - 1.0};
\node[lgs] (pp2) at (112,880.5) {0.85 - 0.94};
\node[lgs] (pp3) at (184,880.5) {0.65 - 0.84};
\node[lgs] (pp4) at (257,880.5) {0.50 - 0.64};
\node[lgs] (pp5) at (326,880.5) {< 0.50};
\draw[b4] ([xshift=-16pt]pp1.west) -- ([xshift=-4pt]pp1.west);
\draw[b3] ([xshift=-17pt]pp2.west) -- ([xshift=-5pt]pp2.west);
\draw[b2] ([xshift=-17pt]pp3.west) -- ([xshift=-7pt]pp3.west);
\draw[b1] ([xshift=-17pt]pp4.west) -- ([xshift=-5pt]pp4.west);
\draw[bd] ([xshift=-15pt]pp5.west) -- ([xshift=-5pt]pp5.west);

% legend: indels
\node[draw=black!45, fill=white, line width=0.8pt, minimum width=100pt, minimum height=111pt,
    anchor=north west, inner sep=0pt] (ilg) at (543,621) {};
\node[lgt, font=\fontsize{7.8}{9}\selectfont] (ilt) at (593,630) {Legend to indels:};
\node[swatch, cdel] (sw1) at (548,641) {};
\node[swatch, udel] (sw2) at (548,662) {};
\node[swatch, cins] (sw3) at (548,682) {};
\node[swatch, uins] (sw4) at (548,702) {};
\node[lgt, right=4pt of sw1] (swt1) {conserved deletion};
\node[lgt, right=4pt of sw2] (swt2) {unconserved deletion};
\node[lgt, right=4pt of sw3] (swt3) {conserved insertion};
\node[lgt, right=4pt of sw4] (swt4) {unconserved\hspace{3pt}insertion};
\coordinate (bka) at (548,713);
\coordinate (bkb) at (565,713);
\coordinate (bkm) at (556.5,717);
\draw[black!45, line width=0.5pt] (bka) -- ++(0,4) -| (bkb);
\draw[black!45, line width=0.5pt] (bkm) -- ++(0,4) -- ++(17,0);
\node[lgt, font=\fontsize{6}{7}\selectfont, align=center] (ilc) at (601,721.5)
    {corresponds to\\10\hspace{3pt}amino acids};
\end{tikzpicture}
\end{document}
